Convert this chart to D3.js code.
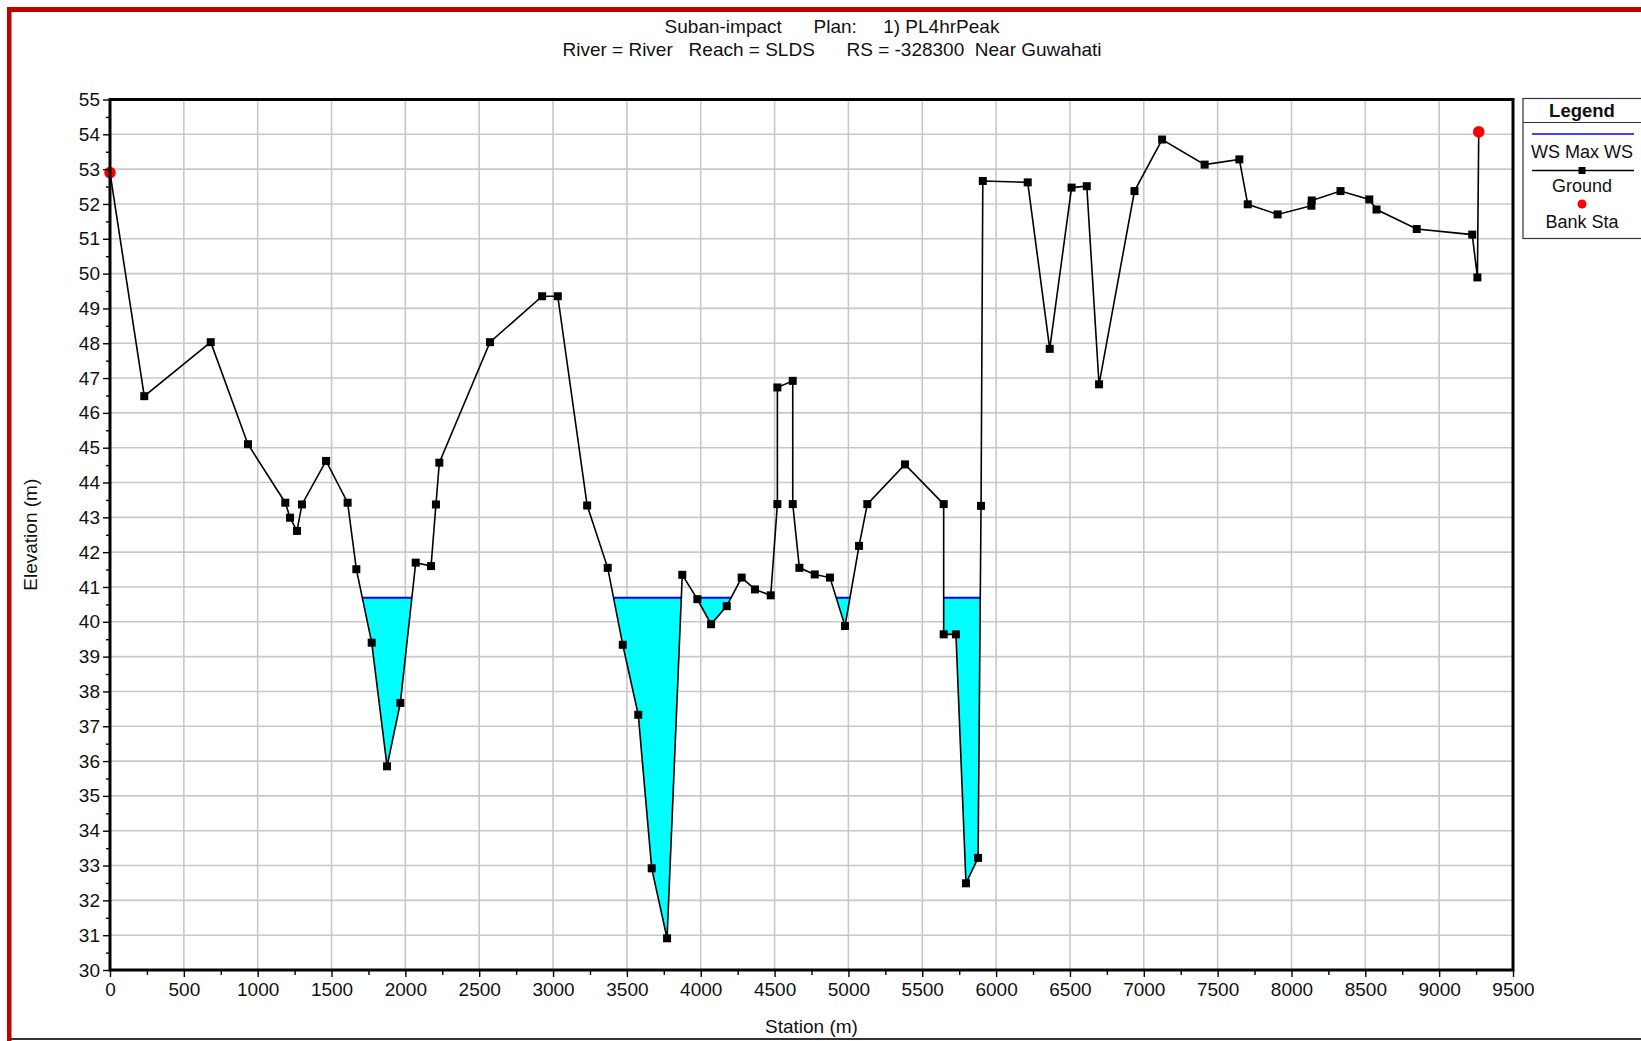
<!DOCTYPE html>
<html>
<head>
<meta charset="utf-8">
<script src="https://cdn.jsdelivr.net/npm/d3@7"></script>
<style>
  html, body { margin: 0; padding: 0; background: #fff; }
  svg { display: block; }
  text { font-family: "Liberation Sans", Arial, sans-serif; fill: #111; }
</style>
</head>
<body>
<svg id="chart" width="1641" height="1041"></svg>
<script>
// ---------------- DATA ----------------
const titleLine1 = "Suban-impact      Plan:     1) PL4hrPeak";
const titleLine2 = "River = River   Reach = SLDS      RS = -328300  Near Guwahati";
const xLabel = "Station (m)";
const yLabel = "Elevation (m)";

const groundStation = [0, 232, 682, 934, 1187, 1219, 1266, 1300, 1463, 1609, 1668, 1772, 1876, 1966, 2070, 2174, 2207, 2230, 2573, 2926, 3032, 3231, 3370, 3472, 3577, 3668, 3772, 3875, 3977, 4070, 4176, 4277, 4367, 4474, 4519, 4519, 4623, 4623, 4668, 4772, 4875, 4977, 5072, 5128, 5383, 5645, 5645, 5728, 5796, 5878, 5898, 5910, 6214, 6363, 6511, 6614, 6697, 6937, 7124, 7412, 7647, 7704, 7906, 8135, 8137, 8332, 8527, 8576, 8848, 9224, 9259, 9268];
const groundElevation = [52.9, 46.48, 48.03, 45.10, 43.42, 42.99, 42.61, 43.37, 44.62, 43.42, 41.51, 39.40, 35.85, 37.67, 41.70, 41.60, 43.37, 44.57, 48.03, 49.35, 49.35, 43.34, 41.55, 39.34, 37.33, 32.92, 30.91, 41.35, 40.65, 39.93, 40.45, 41.27, 40.93, 40.76, 43.38, 46.73, 46.92, 43.38, 41.55, 41.36, 41.27, 39.88, 42.18, 43.38, 44.52, 43.38, 39.64, 39.64, 32.49, 33.22, 43.33, 52.66, 52.62, 47.84, 52.47, 52.51, 46.82, 52.37, 53.85, 53.13, 53.28, 51.99, 51.70, 51.95, 52.10, 52.37, 52.13, 51.84, 51.28, 51.12, 49.89, 54.07];

const bankStation = [0, 9268];
const bankElevation = [52.9, 54.07];

const wsMaxElevation = 40.69;

const xTickValues = [0, 500, 1000, 1500, 2000, 2500, 3000, 3500, 4000, 4500, 5000, 5500, 6000, 6500, 7000, 7500, 8000, 8500, 9000, 9500];
const yTickValues = [30, 31, 32, 33, 34, 35, 36, 37, 38, 39, 40, 41, 42, 43, 44, 45, 46, 47, 48, 49, 50, 51, 52, 53, 54, 55];

const legendItems = ["WS Max WS", "Ground", "Bank Sta"];

// ---------------- LAYOUT ----------------
const svg = d3.select("#chart");
const L = 110, R = 1513, T = 99.5, B = 970;
const x = d3.scaleLinear().domain([0, 9500]).range([L, R]);
const y = d3.scaleLinear().domain([30, 55]).range([B, T]);
const FS = 19;

const ground = groundStation.map((s, i) => ({ s, e: groundElevation[i] }));

svg.append("rect").attr("x", 0).attr("y", 0).attr("width", 1641).attr("height", 1041).attr("fill", "#fff");

// grid
const grid = svg.append("g");
grid.selectAll("line.gx").data(xTickValues).join("line")
  .attr("x1", d => x(d)).attr("x2", d => x(d)).attr("y1", T).attr("y2", B)
  .attr("stroke", "#c8c8c8").attr("stroke-width", 1.6);
grid.selectAll("line.gy").data(yTickValues).join("line")
  .attr("x1", L).attr("x2", R).attr("y1", d => y(d)).attr("y2", d => y(d))
  .attr("stroke", "#c8c8c8").attr("stroke-width", 1.6);

// clip: region above ground
const abovePts = ground.map(d => [x(d.s), y(d.e)]);
abovePts.push([x(groundStation[groundStation.length - 1]), T - 10]);
abovePts.push([x(groundStation[0]), T - 10]);
svg.append("defs").append("clipPath").attr("id", "aboveGround")
  .append("path").attr("d", "M" + abovePts.map(p => p.join(",")).join("L") + "Z");

// water
svg.append("rect")
  .attr("x", x(groundStation[0])).attr("width", x(groundStation[groundStation.length - 1]) - x(groundStation[0]))
  .attr("y", y(wsMaxElevation)).attr("height", y(30) - y(wsMaxElevation))
  .attr("fill", "#00ffff").attr("clip-path", "url(#aboveGround)");
svg.append("line")
  .attr("x1", x(groundStation[0])).attr("x2", x(groundStation[groundStation.length - 1]))
  .attr("y1", y(wsMaxElevation)).attr("y2", y(wsMaxElevation))
  .attr("stroke", "#0000ff").attr("stroke-width", 2).attr("clip-path", "url(#aboveGround)");

// ground line
svg.append("path").datum(ground)
  .attr("d", d3.line().x(d => x(d.s)).y(d => y(d.e)))
  .attr("fill", "none").attr("stroke", "#000").attr("stroke-width", 1.6);
svg.selectAll("rect.mk").data(ground).join("rect")
  .attr("x", d => x(d.s) - 4).attr("y", d => y(d.e) - 4)
  .attr("width", 8).attr("height", 8).attr("fill", "#000");

// bank stations
svg.selectAll("circle.bank").data(bankStation).join("circle")
  .attr("cx", d => x(d)).attr("cy", (d, i) => y(bankElevation[i])).attr("r", 5.8)
  .attr("fill", "#ff0000");

// axes ticks
const minorX = d3.range(0, 9501, 250).filter(v => v % 500 !== 0);
const minorY = d3.range(30.5, 55, 1);

const xAxis = svg.append("g").attr("transform", `translate(0,${B})`)
  .call(d3.axisBottom(x).tickValues(xTickValues).tickSize(7).tickPadding(6).tickFormat(d3.format("d")));
const xMinor = svg.append("g").attr("transform", `translate(0,${B})`)
  .call(d3.axisBottom(x).tickValues(minorX).tickSize(5).tickFormat(""));
const yAxis = svg.append("g").attr("transform", `translate(${L},0)`)
  .call(d3.axisLeft(y).tickValues(yTickValues).tickSize(7).tickPadding(3).tickFormat(d3.format("d")));
const yMinor = svg.append("g").attr("transform", `translate(${L},0)`)
  .call(d3.axisLeft(y).tickValues(minorY).tickSize(4).tickFormat(""));
[xAxis, xMinor, yAxis, yMinor].forEach(g => {
  g.select(".domain").remove();
  g.selectAll(".tick line").attr("stroke", "#000").attr("stroke-width", 1.4);
  g.selectAll(".tick text").attr("font-size", FS).attr("fill", "#111")
    .attr("font-family", "'Liberation Sans', Arial, sans-serif");
});

// plot frame
svg.append("rect").attr("x", L).attr("y", T).attr("width", R - L).attr("height", B - T)
  .attr("fill", "none").attr("stroke", "#000").attr("stroke-width", 3);

// titles
svg.append("text").attr("x", 832).attr("y", 33).attr("text-anchor", "middle")
  .attr("font-size", FS).style("white-space", "pre").text(titleLine1);
svg.append("text").attr("x", 832).attr("y", 56).attr("text-anchor", "middle")
  .attr("font-size", FS).style("white-space", "pre").text(titleLine2);
svg.append("text").attr("x", (L + R) / 2).attr("y", 1033).attr("text-anchor", "middle")
  .attr("font-size", FS).text(xLabel);
svg.append("text").attr("transform", `translate(37,${(T + B) / 2}) rotate(-90)`)
  .attr("text-anchor", "middle").attr("font-size", FS).text(yLabel);

// legend
const lg = svg.append("g");
lg.append("rect").attr("x", 1523).attr("y", 98.5).attr("width", 130).attr("height", 140)
  .attr("fill", "#fff").attr("stroke", "#333").attr("stroke-width", 1.2);
lg.append("line").attr("x1", 1523).attr("x2", 1641).attr("y1", 122.5).attr("y2", 122.5)
  .attr("stroke", "#333").attr("stroke-width", 1.2);
lg.append("text").attr("x", 1582).attr("y", 117).attr("text-anchor", "middle")
  .attr("font-size", 18.5).attr("font-weight", "bold").text("Legend");
lg.append("line").attr("x1", 1532).attr("x2", 1634).attr("y1", 134).attr("y2", 134)
  .attr("stroke", "#0000ff").attr("stroke-width", 1.5);
lg.append("text").attr("x", 1582).attr("y", 158).attr("text-anchor", "middle")
  .attr("font-size", 18).text(legendItems[0]);
lg.append("line").attr("x1", 1532).attr("x2", 1634).attr("y1", 170.5).attr("y2", 170.5)
  .attr("stroke", "#000").attr("stroke-width", 1.5);
lg.append("rect").attr("x", 1578.5).attr("y", 167).attr("width", 7).attr("height", 7).attr("fill", "#000");
lg.append("text").attr("x", 1582).attr("y", 192).attr("text-anchor", "middle")
  .attr("font-size", 18).text(legendItems[1]);
lg.append("circle").attr("cx", 1582).attr("cy", 204).attr("r", 4.5).attr("fill", "#ff0000");
lg.append("text").attr("x", 1582).attr("y", 228).attr("text-anchor", "middle")
  .attr("font-size", 18).text(legendItems[2]);

// window borders
svg.append("rect").attr("x", 7).attr("y", 7).attr("width", 1634).attr("height", 5).attr("fill", "#c00000");
svg.append("rect").attr("x", 7).attr("y", 7).attr("width", 4.5).attr("height", 1034).attr("fill", "#c00000");
svg.append("rect").attr("x", 11).attr("y", 1038).attr("width", 1630).attr("height", 2).attr("fill", "#333");
</script>
</body>
</html>
